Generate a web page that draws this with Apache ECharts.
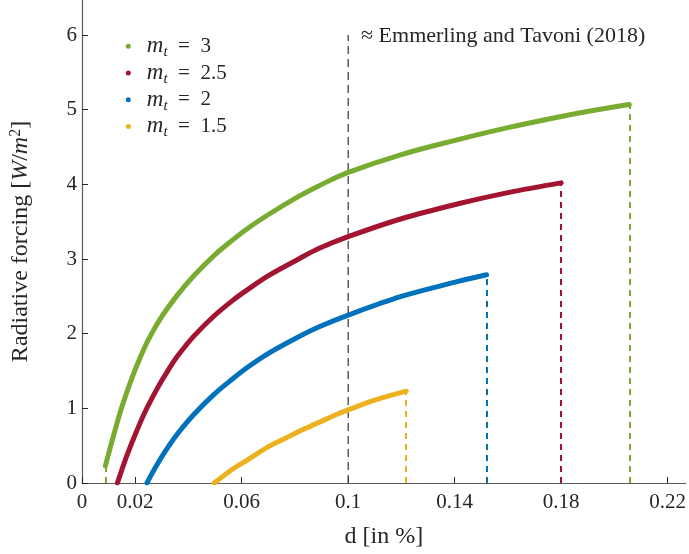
<!DOCTYPE html>
<html>
<head>
<meta charset="utf-8">
<script src="https://cdn.jsdelivr.net/npm/echarts@6/dist/echarts.min.js"></script>
<style>
html,body{margin:0;padding:0;background:#fff;}
#chart{width:689px;height:554px;}
</style>
</head>
<body>
<div id="chart"></div>
<script>
// ---- data ----
const seriesNames = ['3', '2.5', '2', '1.5'];

const greenD = [0.0088, 0.0105, 0.0122, 0.0150, 0.0185, 0.0215, 0.0248, 0.0296, 0.0359, 0.0421, 0.0497, 0.0564, 0.0622, 0.0702, 0.0814, 0.0889, 0.1, 0.12, 0.1413, 0.16, 0.18, 0.1935, 0.2056];
const greenV = [0.23, 0.46, 0.68, 1.02, 1.38, 1.65, 1.91, 2.21, 2.52, 2.78, 3.05, 3.25, 3.41, 3.60, 3.84, 3.98, 4.16, 4.40, 4.60, 4.76, 4.91, 5.00, 5.07];

const redD = [0.0133, 0.0150, 0.0172, 0.0200, 0.0234, 0.0265, 0.0296, 0.0327, 0.0359, 0.0421, 0.0497, 0.0564, 0.0622, 0.0702, 0.0814, 0.0889, 0.1, 0.12, 0.1413, 0.16, 0.18];
const redV = [0, 0.18, 0.40, 0.65, 0.93, 1.15, 1.35, 1.53, 1.70, 1.97, 2.24, 2.44, 2.59, 2.78, 3.00, 3.14, 3.30, 3.54, 3.74, 3.89, 4.02];

const blueD = [0.0244, 0.0265, 0.0296, 0.0327, 0.0359, 0.0421, 0.0497, 0.0564, 0.0622, 0.0702, 0.0814, 0.0889, 0.1, 0.12, 0.1413, 0.152];
const blueV = [0, 0.14, 0.33, 0.50, 0.66, 0.92, 1.19, 1.39, 1.55, 1.74, 1.96, 2.09, 2.25, 2.50, 2.70, 2.79];

const yellowD = [0.0497, 0.0564, 0.0622, 0.0702, 0.0764, 0.0826, 0.0889, 0.0951, 0.1, 0.11, 0.1218];
const yellowV = [0, 0.18, 0.31, 0.49, 0.60, 0.71, 0.81, 0.91, 0.98, 1.11, 1.23];

const xTicks = [0, 0.02, 0.06, 0.1, 0.14, 0.18, 0.22];
const yTicks = [0, 1, 2, 3, 4, 5, 6];

const refX = 0.1;      // Emmerling and Tavoni (2018)
const refTop = 6;
const refLabel = '\u2248 Emmerling and Tavoni (2018)';

// ---- styling ----
const colors = ['#77AC30', '#A2142F', '#0072BD', '#EDB120'];
const FONT = '"Liberation Serif", "Times New Roman", Times, "DejaVu Serif", serif';
const TXT = '#262626';

function pairs(d, v) { return d.map((x, i) => [x, v[i]]); }

function dropLines(d, v, includeStart) {
  const n = d.length - 1;
  const lines = [[{coord: [d[n], 0]}, {coord: [d[n], v[n]]}]];
  if (includeStart && v[0] > 0) lines.push([{coord: [d[0], 0]}, {coord: [d[0], v[0]]}]);
  return lines;
}

function curve(name, d, v, color) {
  return {
    name: name,
    type: 'line',
    data: pairs(d, v),
    smooth: 0.35,
    showSymbol: false,
    symbol: 'circle',
    color: color,
    lineStyle: {color: color, width: 5, cap: 'round', join: 'round'},
    itemStyle: {color: color},
    z: 3,
    markLine: {
      silent: true,
      symbol: ['none', 'none'],
      label: {show: false},
      lineStyle: {color: color, type: [6, 5], width: 2},
      emphasis: {disabled: true},
      data: dropLines(d, v, true)
    }
  };
}

const chart = echarts.init(document.getElementById('chart'), null, {renderer: 'canvas'});

const option = {
  animation: false,
  backgroundColor: '#fff',
  grid: {left: 82, right: 1, top: 0, bottom: 71, containLabel: false},
  legend: {
    orient: 'vertical',
    left: 120.8,
    top: 28,
    itemWidth: 5,
    itemHeight: 5,
    itemGap: 0,
    icon: 'circle',
    data: seriesNames,
    formatter: function (name) { return '{i|m}{s|t}{n|  =  ' + name + '}'; },
    textStyle: {
      fontFamily: FONT,
      fontSize: 21,
      color: TXT,
      lineHeight: 26.7,
      rich: {
        i: {fontFamily: FONT, fontStyle: 'italic', fontSize: 23, color: TXT, lineHeight: 26.7, padding: [0, 0, 0, 11]},
        s: {fontFamily: FONT, fontStyle: 'italic', fontSize: 15, color: TXT, verticalAlign: 'bottom', lineHeight: 20},
        n: {fontFamily: FONT, fontSize: 21, color: TXT, lineHeight: 26.7}
      }
    }
  },
  xAxis: {
    type: 'value',
    min: 0,
    max: 0.2268,
    name: 'd [in %]',
    nameLocation: 'middle',
    nameGap: 42,
    nameTextStyle: {fontFamily: FONT, fontSize: 24, color: TXT},
    axisLine: {show: true, onZero: false, lineStyle: {color: '#5a5a5a', width: 1.2}},
    axisTick: {show: true, inside: true, length: 6, customValues: xTicks, lineStyle: {color: '#262626', width: 1}},
    axisLabel: {
      customValues: xTicks,
      margin: 9,
      fontFamily: FONT,
      fontSize: 21,
      color: TXT,
      formatter: function (v) { return v === 0 ? '0' : String(Math.round(v * 100) / 100); }
    },
    splitLine: {show: false}
  },
  yAxis: {
    type: 'value',
    min: 0,
    max: 6.47,
    name: '{t|Radiative forcing [}{i|W}{t|/}{i|m}{sup|2}{t|]}',
    nameLocation: 'middle',
    nameGap: 48,
    nameTextStyle: {
      fontFamily: FONT, fontSize: 24, color: TXT,
      rich: {
        t: {fontFamily: FONT, fontSize: 24, color: TXT, lineHeight: 26},
        i: {fontFamily: FONT, fontStyle: 'italic', fontSize: 24, color: TXT, lineHeight: 26},
        sup: {fontFamily: FONT, fontSize: 16, color: TXT, verticalAlign: 'top', lineHeight: 16}
      }
    },
    axisLine: {show: true, onZero: false, lineStyle: {color: '#5a5a5a', width: 1.2}},
    axisTick: {show: true, inside: true, length: 6, customValues: yTicks, lineStyle: {color: '#262626', width: 1}},
    axisLabel: {customValues: yTicks, margin: 5, fontFamily: FONT, fontSize: 21, color: TXT},
    splitLine: {show: false}
  },
  graphic: [{
    type: 'text',
    left: 361,
    top: 25,
    style: {text: refLabel, fontFamily: FONT, fontSize: 22, fill: TXT}
  }],
  series: [
    {
      name: 'ref',
      type: 'line',
      data: [[refX, 0], [refX, refTop]],
      showSymbol: false,
      lineStyle: {color: '#333333', width: 1.2, type: [8, 5]},
      z: 1,
      silent: true
    },
    curve(seriesNames[0], greenD, greenV, colors[0]),
    curve(seriesNames[1], redD, redV, colors[1]),
    curve(seriesNames[2], blueD, blueV, colors[2]),
    curve(seriesNames[3], yellowD, yellowV, colors[3])
  ]
};
chart.setOption(option);
</script>
</body>
</html>
